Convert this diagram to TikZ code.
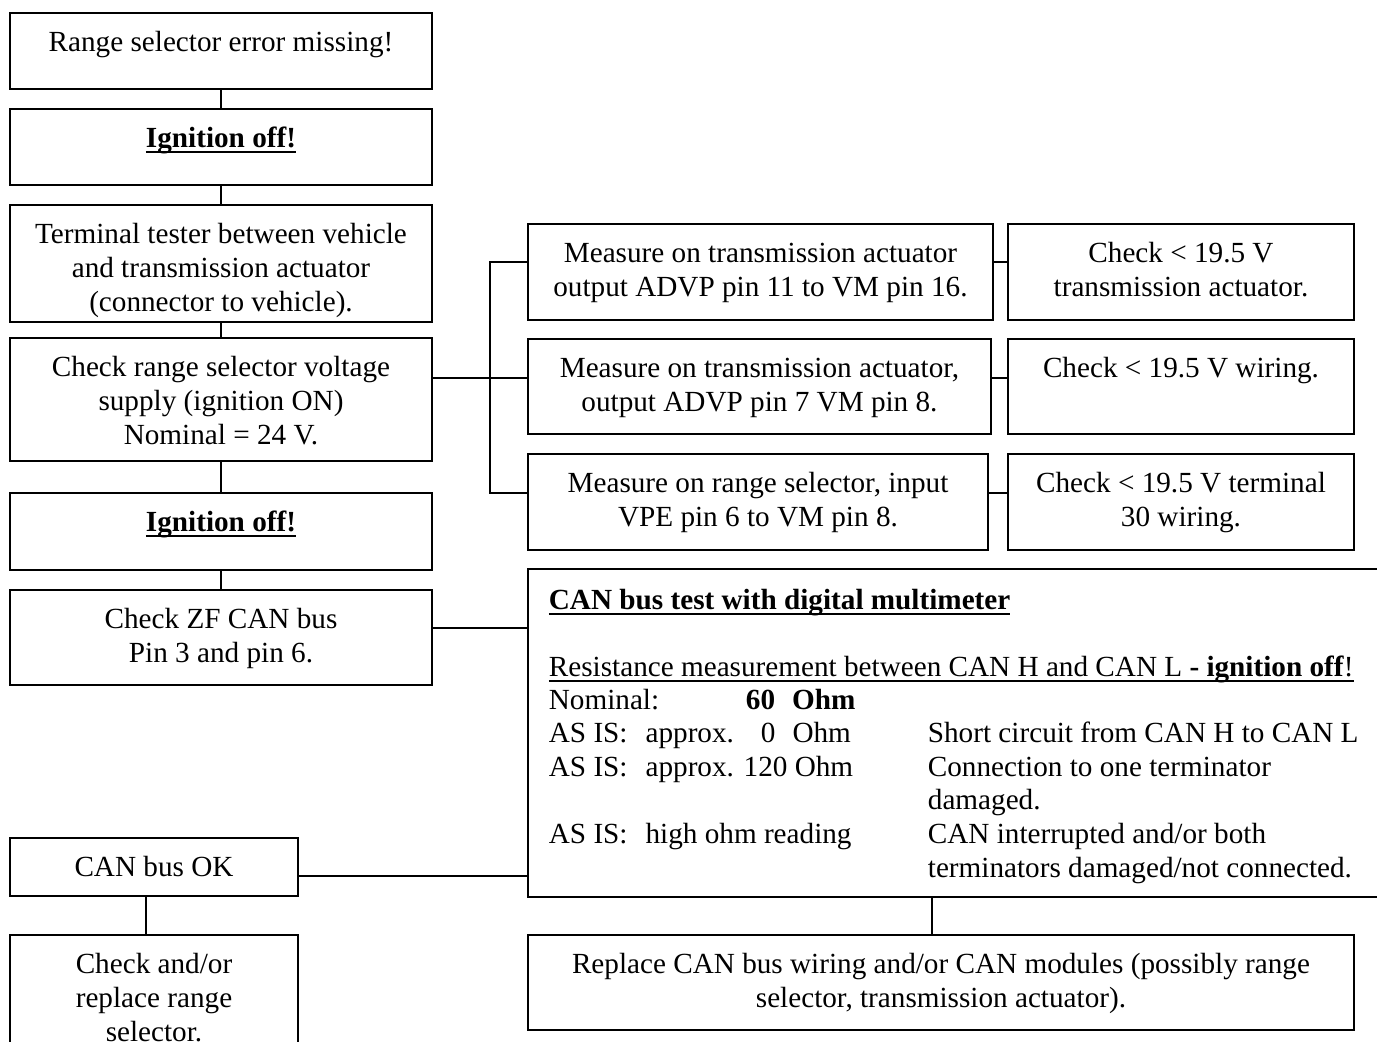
\documentclass[tikz,border=0pt]{standalone}
\usepackage{fontspec}
\setmainfont{Liberation Serif}
\usetikzlibrary{positioning}

\newdimen\pxu \pxu=0.5pt
\newcommand{\ulbox}[1]{\setbox0\hbox{#1}\rlap{\rule[-3.1pt]{\wd0}{0.9pt}}\box0}
\newcommand{\boxbody}[3]{\parbox[t][#2\pxu][t]{#1\pxu}{\centering\vspace*{7.1pt}\strut #3\par}}

\begin{document}
\begin{tikzpicture}[x=0.5pt, y=-0.5pt, line width=0.9pt,
    font=\fontsize{14.6pt}{17pt}\selectfont,
    box/.style={draw, inner sep=0pt, outer sep=0pt, anchor=north west},
    txt/.style={inner sep=0pt, anchor=base west},
    link/.style={draw, line width=0.9pt}]
  \useasboundingbox (0,0) rectangle (1377,1041);
  \clip (0,0) rectangle (1377,1041);

  % left column
  \node[box] (rse) at (10,13) {\boxbody{422}{76}{Range selector error missing!}};
  \node[box] (ign1) at (10,109) {\boxbody{422}{76}{\textbf{\ulbox{Ignition off!}}}};
  \node[box] (tt) at (10,205) {\boxbody{422}{117}{Terminal tester between vehicle\\ and transmission actuator\\ (connector to vehicle).}};
  \node[box] (crs) at (10,338) {\boxbody{422}{123}{Check range selector voltage\\ supply (ignition ON)\\ Nominal = 24 V.}};
  \node[box] (ign2) at (10,493) {\boxbody{422}{77}{\textbf{\ulbox{Ignition off!}}}};
  \node[box] (zf) at (10,590) {\boxbody{422}{95}{Check ZF CAN bus\\ Pin 3 and pin 6.}};
  \node[box] (ok) at (10,838) {\boxbody{288}{58}{CAN bus OK}};
  \node[box] (repl) at (10,935) {\boxbody{288}{150}{Check and/or\\ replace range\\ selector.}};

  % measurements
  \node[box] (m1) at (528,224) {\boxbody{465}{96}{Measure on transmission actuator\\ output ADVP pin 11 to VM pin 16.}};
  \node[box] (m2) at (528,339) {\boxbody{463}{95}{Measure on transmission actuator,\\ output ADVP pin 7 VM pin 8.}};
  \node[box] (m3) at (528,454) {\boxbody{460}{96}{Measure on range selector, input\\ VPE pin 6 to VM pin 8.}};
  \node[box] (c1) at (1008,224) {\boxbody{346}{96}{Check < 19.5 V\\ transmission actuator.}};
  \node[box] (c2) at (1008,339) {\boxbody{346}{95}{Check < 19.5 V wiring.}};
  \node[box] (c3) at (1008,454) {\boxbody{346}{96}{Check < 19.5 V terminal\\ 30 wiring.}};

  % CAN bus test
  \node[box, minimum width=450pt, minimum height=164pt] (can) at (528,569) {};
  \node[txt] (cantitle) at (548,609) {\textbf{\ulbox{CAN bus test with digital multimeter}}};
  \node[txt] (canres) at (548,676) {\ulbox{Resistance measurement between CAN H and CAN L \textbf{- ignition off}!}};
  \node[txt] (nom) at (548,709) {Nominal:};
  \node[txt] (nomval) at (745,709) {\textbf{60}\hspace{8.5pt}\textbf{Ohm}};
  \node[txt] (as1) at (548,742) {AS IS:\hspace{9pt}approx.};
  \node[txt] (as1val) at (760,742) {0\hspace{8.5pt}Ohm};
  \node[txt] (as2) at (548,776) {AS IS:\hspace{9pt}approx. 120 Ohm};
  \node[txt] (as3) at (548,843) {AS IS:\hspace{9pt}high ohm reading};
  \foreach \y/\t in {742/{Short circuit from CAN H to CAN L}, 776/{Connection to one terminator},
      809/{damaged.}, 843/{CAN interrupted and/or both}, 877/{terminators damaged/not connected.}}
    \node[txt] (d\y) at (927,\y) {\t};

  \node[box] (rcan) at (528,935) {\boxbody{826}{95}{Replace CAN bus wiring and/or CAN modules (possibly range\\ selector, transmission actuator).}};

  % connectors
  \draw[link] (rse.south) -- (ign1.north);
  \draw[link] (ign1.south) -- (tt.north);
  \draw[link] (tt.south) -- (crs.north);
  \draw[link] (crs.south) -- (ign2.north);
  \draw[link] (ign2.south) -- (zf.north);

  \coordinate (fork) at (490,378);
  \draw[link] ([yshift=-20pt]crs.north east) -- ([yshift=-20pt]crs.north east -| m2.west);
  \draw[link] ([yshift=-19pt]m1.north west) -| (fork) |- ([yshift=-19.5pt]m3.north west);
  \foreach \i/\d in {1/19,2/19.5,3/19.5}
    \draw[link] ([yshift=-\d pt]m\i.north east) -- ([yshift=-\d pt]m\i.north east -| c\i.west);

  \draw[link] ([yshift=-19pt]zf.north east) -- ([yshift=-19pt]zf.north east -| can.west);
  \draw[link] ([yshift=-19pt]ok.north east) -- ([yshift=-19pt]ok.north east -| can.west);
  \draw[link] ([xshift=-4pt]ok.south) -- ([xshift=-4pt]repl.north);
  \draw[link, line width=0.6pt] ([xshift=-4.5pt]rcan.north) -- ([xshift=-4.5pt]rcan.north |- can.south);
\end{tikzpicture}
\end{document}
